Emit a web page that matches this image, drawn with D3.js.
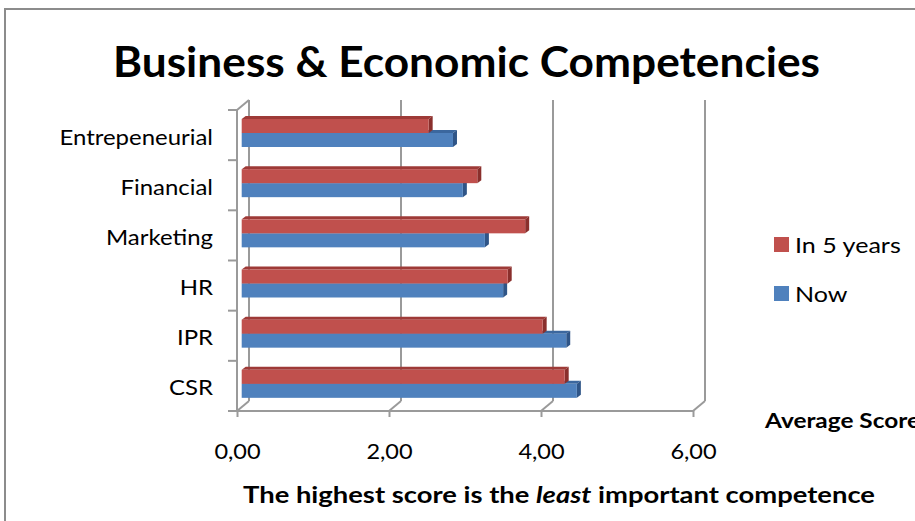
<!DOCTYPE html>
<html>
<head>
<meta charset="utf-8">
<script src="https://cdn.jsdelivr.net/npm/d3@7"></script>
<style>
  html, body { margin: 0; padding: 0; background: #fff; overflow: hidden; }
  svg { display: block; font-family: Lato, "Open Sans", sans-serif; }
</style>
</head>
<body>
<svg id="chart" width="915" height="521"></svg>
<script>
const categories = ["Entrepeneurial", "Financial", "Marketing", "HR", "IPR", "CSR"];
const seriesNames = ["In 5 years", "Now"];
const in5Years = [2.46, 3.10, 3.73, 3.50, 3.96, 4.25];
const nowValues = [2.78, 2.91, 3.20, 3.44, 4.27, 4.41];
const tickValues = [0, 2, 4, 6];
const titleText = "Business & Economic Competencies";
const valueAxisTitle = "Average Score";

const svg = d3.select("#chart");
const RED = "#C0504D", RED_TOP = "#9E3A37", RED_SIDE = "#8A2F2C";
const BLUE = "#4F81BD", BLUE_TOP = "#3B679E", BLUE_SIDE = "#2F5587";
const GRID = "#9a9a9a";

// stretch text horizontally to match wide rendering
function stretch(sel, k) {
  sel.each(function () {
    const w = this.getComputedTextLength();
    d3.select(this).attr("textLength", w * k).attr("lengthAdjust", "spacingAndGlyphs");
  });
}
function fitTo(sel, width) {
  sel.attr("textLength", width).attr("lengthAdjust", "spacingAndGlyphs");
}

// outer border
svg.append("rect").attr("x", 5).attr("y", 9).attr("width", 1000).attr("height", 1000)
  .attr("fill", "none").attr("stroke", "#8c8c8c").attr("stroke-width", 2);

// title
const title = svg.append("text").attr("x", 466.5).attr("y", 77).attr("text-anchor", "middle")
  .attr("font-weight", "bold").attr("font-size", 42).attr("fill", "#000")
  .text(titleText);
fitTo(title, 707);

// geometry
const front = { left: 237, right: 693, top: 110, bottom: 411 };
const depth = { dx: 12, dy: -10 };
const x = d3.scaleLinear().domain([0, 6]).range([front.left, front.right]);
const y = d3.scaleBand().domain(categories).range([front.top, front.bottom]);
const fmt = d3.formatLocale({ decimal: ",", thousands: ".", grouping: [3], currency: ["", ""] }).format(".2f");

const grid = svg.append("g").attr("stroke", GRID).attr("stroke-width", 2).attr("fill", "none");
tickValues.forEach(v => {
  grid.append("line").attr("x1", x(v) + depth.dx).attr("x2", x(v) + depth.dx)
    .attr("y1", front.top + depth.dy).attr("y2", front.bottom + depth.dy);
  grid.append("line").attr("x1", x(v)).attr("x2", x(v) + depth.dx)
    .attr("y1", front.bottom).attr("y2", front.bottom + depth.dy);
});
grid.append("line").attr("x1", front.left).attr("y1", front.top)
  .attr("x2", front.left + depth.dx).attr("y2", front.top + depth.dy);

// bars
const barH = 14, barGap = 9, bdx = 4, bdy = -3;
const barOffset = 4.7;
const data = categories.map((c, i) => ({ c, in5: in5Years[i], now: nowValues[i] }));

function drawBar(g, x0, x1, yTop, h, cFront, cTop, cSide) {
  g.append("path").attr("fill", cTop)
    .attr("d", `M${x0},${yTop} L${x0 + bdx},${yTop + bdy} L${x1 + bdx},${yTop + bdy} L${x1},${yTop} Z`);
  g.append("path").attr("fill", cSide)
    .attr("d", `M${x1},${yTop} L${x1 + bdx},${yTop + bdy} L${x1 + bdx},${yTop + h + bdy} L${x1},${yTop + h} Z`);
  g.append("rect").attr("x", x0).attr("y", yTop).attr("width", x1 - x0).attr("height", h).attr("fill", cFront);
}

const bars = svg.append("g");
data.forEach(d => {
  const top = y(d.c) + barGap;
  const g = bars.append("g");
  drawBar(g, x(0) + barOffset, x(d.now) + barOffset, top + barH, barH, BLUE, BLUE_TOP, BLUE_SIDE);
  drawBar(g, x(0) + barOffset, x(d.in5) + barOffset, top, barH, RED, RED_TOP, RED_SIDE);
});

// category axis
const yAxisG = svg.append("g").attr("transform", `translate(${front.left},0)`)
  .call(d3.axisLeft(y).tickSize(0).tickPadding(24));
yAxisG.select(".domain").remove();
yAxisG.selectAll("text").attr("font-size", 21).attr("fill", "#000")
  .attr("font-family", "Lato, sans-serif").attr("dy", "0.45em");
stretch(yAxisG.selectAll("text"), 1.14);
const bounds = d3.range(categories.length + 1).map(i => front.top + i * y.step());
svg.append("g").attr("stroke", GRID).attr("stroke-width", 2)
  .selectAll("line").data(bounds).join("line")
  .attr("x1", front.left - 9).attr("x2", front.left)
  .attr("y1", d => d).attr("y2", d => d);
svg.append("line").attr("x1", front.left).attr("x2", front.left)
  .attr("y1", front.top).attr("y2", front.bottom)
  .attr("stroke", GRID).attr("stroke-width", 2);

// value axis
const xAxisG = svg.append("g").attr("transform", `translate(0,${front.bottom})`)
  .call(d3.axisBottom(x).tickValues(tickValues).tickSize(6).tickPadding(27).tickFormat(fmt));
xAxisG.select(".domain").attr("stroke", GRID).attr("stroke-width", 2).attr("d", `M${front.left},0H${front.right}`);
xAxisG.selectAll(".tick line").attr("stroke", GRID).attr("stroke-width", 2);
xAxisG.selectAll("text").attr("font-size", 21).attr("fill", "#000").attr("font-family", "Lato, sans-serif");
stretch(xAxisG.selectAll("text"), 1.12);

// value axis title
const vat = svg.append("text").attr("x", 765).attr("y", 428).attr("font-weight", "bold")
  .attr("font-size", 20).attr("fill", "#000").text(valueAxisTitle);
fitTo(vat, 155);

// bottom note
const note = svg.append("text").attr("x", 243).attr("y", 503)
  .attr("font-weight", "bold").attr("font-size", 23).attr("fill", "#000");
note.append("tspan").text("The highest score is the ");
note.append("tspan").attr("font-style", "italic").text("least");
note.append("tspan").text(" important competence");
fitTo(note, 632);

// legend
const legendColors = [RED, BLUE];
const legendY = [237, 286];
const lg = svg.append("g");
seriesNames.forEach((name, i) => {
  lg.append("rect").attr("x", 774).attr("y", legendY[i]).attr("width", 15).attr("height", 15)
    .attr("fill", legendColors[i]);
  const t = lg.append("text").attr("x", 795).attr("y", legendY[i] + 15.5).attr("font-size", 22)
    .attr("fill", "#000").text(name);
  stretch(t, 1.14);
});
</script>
</body>
</html>
